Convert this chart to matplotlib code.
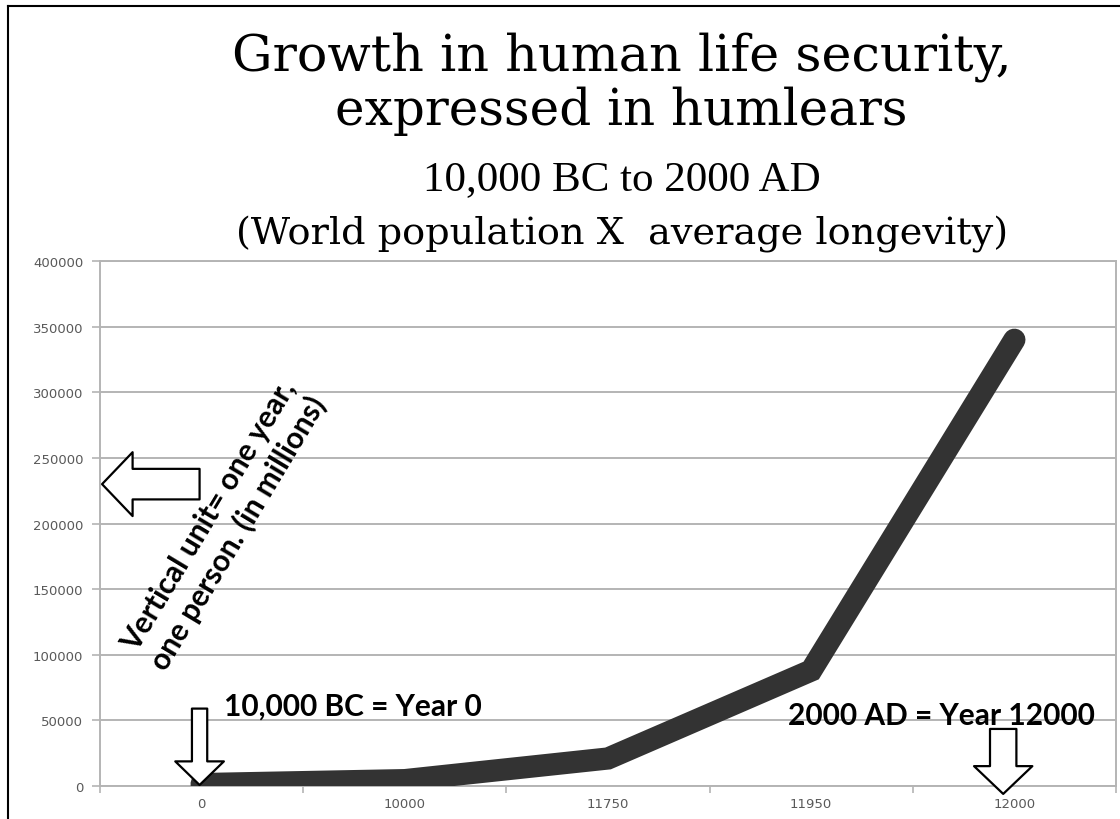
import matplotlib.pyplot as plt
from matplotlib.lines import Line2D

# data
years = ["0", "10000", "11750", "11950", "12000"]
humlears = [1500, 4500, 21000, 88000, 340000]
y_ticks = [0, 50000, 100000, 150000, 200000, 250000, 300000, 350000, 400000]

serif = "DejaVu Serif"
bold_sans = "Lato"
grid_col = "#b4b4b4"

fig = plt.figure(figsize=(11.2, 8.2), dpi=100)
ax = fig.add_axes([0.0893, 0.0402, 0.9071, 0.6403])

x = list(range(len(years)))
ax.plot(x, humlears, color="#333333", lw=16, solid_capstyle="round",
        solid_joinstyle="miter", zorder=3)

ax.set_xlim(-0.5, len(years) - 0.5)
ax.set_ylim(0, 400000)
ax.set_yticks(y_ticks)
ax.set_yticklabels([str(v) for v in y_ticks])
ax.set_xticks(x)
ax.set_xticklabels(years)
ax.set_xticks([i - 0.5 for i in range(len(years) + 1)], minor=True)
ax.tick_params(axis="x", which="major", length=0, pad=8)
ax.tick_params(axis="x", which="minor", length=5, color=grid_col, width=1.2)
ax.tick_params(axis="y", length=6, color=grid_col, width=1.2, pad=6)
ax.tick_params(labelsize=9.5, labelcolor="#595959")
ax.yaxis.grid(True, color=grid_col, lw=1.4)
ax.set_axisbelow(True)
for s in ax.spines.values():
    s.set_color(grid_col)
    s.set_linewidth(1.4)

# titles
cx = 0.555
fig.text(cx, 0.9146, "Growth in human life security,", family=serif,
         fontsize=36.5, ha="center", va="baseline")
fig.text(cx, 0.8476, "expressed in humlears", family=serif,
         fontsize=36, ha="center", va="baseline")
fig.text(cx, 0.7683, "10,000 BC to 2000 AD", family="Liberation Serif",
         fontsize=31, ha="center", va="baseline")
fig.text(cx, 0.7024, "(World population X  average longevity)", family=serif,
         fontsize=27.5, ha="center", va="baseline")

# annotations
ax.text(0.11, 200000, "Vertical unit= one year,\none person. (in millions)",
        family=bold_sans, weight="bold", fontsize=21.5, rotation=59,
        rotation_mode="anchor", ha="center", va="center", zorder=5)
ax.text(0.11, 54700, "10,000 BC = Year 0", family=bold_sans, weight="bold",
        fontsize=21.5, ha="left", va="baseline", zorder=5)
ax.text(2.886, 47000, "2000 AD = Year 12000", family=bold_sans, weight="bold",
        fontsize=21.5, ha="left", va="baseline", zorder=5)

arrow_left = dict(arrowstyle="simple,head_length=22,head_width=46,tail_width=22",
                  mutation_scale=1, fc="white", ec="black", lw=1.6,
                  shrinkA=0, shrinkB=0)
ax.annotate("", xy=(-0.49, 230000), xytext=(-0.01, 230000),
            arrowprops=arrow_left, zorder=6)

arrow_down0 = dict(arrowstyle="simple,head_length=17,head_width=35,tail_width=11",
                   mutation_scale=1, fc="white", ec="black", lw=1.6,
                   shrinkA=0, shrinkB=0)
ax.annotate("", xy=(-0.01, 800), xytext=(-0.01, 59000),
            arrowprops=arrow_down0, zorder=6, annotation_clip=False)

arrow_down1 = dict(arrowstyle="simple,head_length=20,head_width=42,tail_width=19",
                   mutation_scale=1, fc="white", ec="black", lw=1.6,
                   shrinkA=0, shrinkB=0)
ax.annotate("", xy=(3.945, -6000), xytext=(3.945, 43500),
            arrowprops=arrow_down1, zorder=6, annotation_clip=False)

# outer frame, top and left only
fig.add_artist(Line2D([0.0071, 0.0071], [0, 0.9915], color="black", lw=1.5))
fig.add_artist(Line2D([0.0071, 1.0], [0.9915, 0.9915], color="black", lw=1.5))

fig.savefig("out.png", dpi=100)
